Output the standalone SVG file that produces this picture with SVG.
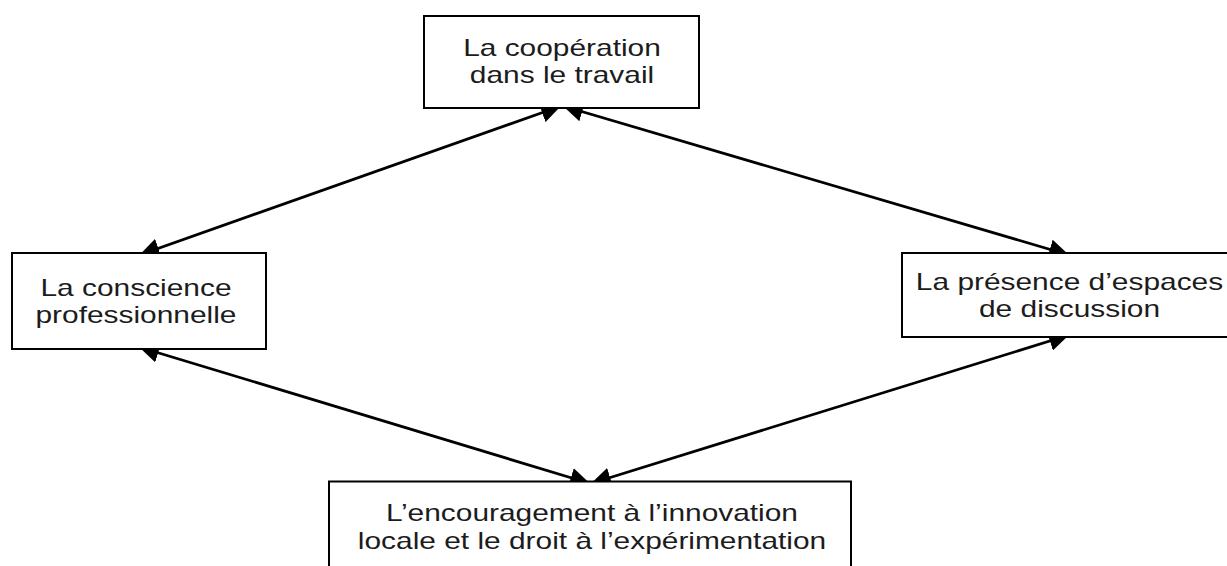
<svg xmlns="http://www.w3.org/2000/svg" width="1227" height="566" viewBox="0 0 1227 566">
  <style>
    .box { fill: #ffffff; stroke: #000000; stroke-width: 2; }
    .link { fill: none; stroke: #000000; stroke-width: 2.8; marker-start: url(#head); marker-end: url(#head); }
    .label { font-family: "Liberation Sans", Arial, sans-serif; font-size: 23px; fill: #1c1c1c; text-anchor: middle; }
  </style>
  <defs>
    <marker id="head" viewBox="0 0 20 20" markerUnits="userSpaceOnUse" markerWidth="20" markerHeight="20" refX="20" refY="10" orient="auto-start-reverse">
      <path d="M0,0 L20,10 L0,20 Z" fill="#000000"/>
    </marker>
  </defs>

  <!-- double-headed links, drawn beneath the boxes so the boxes trim the tips -->
  <g id="connectors">
    <line class="link" x1="139.5" y1="255" x2="561" y2="106"/>
    <line class="link" x1="563" y1="106" x2="1069" y2="255"/>
    <line class="link" x1="139" y1="347" x2="590" y2="483.5"/>
    <line class="link" x1="1069" y1="335" x2="591" y2="483.5"/>
  </g>

  <g id="node-cooperation">
    <rect class="box" x="424" y="16" width="275" height="92"/>
    <text class="label" transform="translate(562,56) scale(1.3,1)">La coopération</text>
    <text class="label" transform="translate(562,83) scale(1.3,1)">dans le travail</text>
  </g>

  <g id="node-conscience">
    <rect class="box" x="12" y="253" width="254" height="96"/>
    <text class="label" transform="translate(136,296) scale(1.3,1)">La conscience</text>
    <text class="label" transform="translate(136,323) scale(1.3,1)">professionnelle</text>
  </g>

  <g id="node-discussion">
    <rect class="box" x="902" y="253" width="328" height="84"/>
    <text class="label" transform="translate(1069.5,290) scale(1.3,1)">La présence d’espaces</text>
    <text class="label" transform="translate(1069.5,317) scale(1.3,1)">de discussion</text>
  </g>

  <g id="node-innovation">
    <rect class="box" x="329" y="481.5" width="522" height="100"/>
    <text class="label" transform="translate(592,521) scale(1.3,1)">L’encouragement à l’innovation</text>
    <text class="label" transform="translate(592,549) scale(1.3,1)">locale et le droit à l’expérimentation</text>
  </g>
</svg>
